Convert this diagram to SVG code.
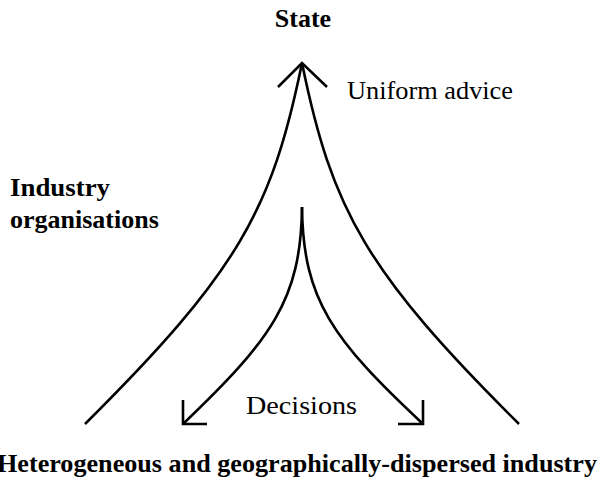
<svg xmlns="http://www.w3.org/2000/svg" width="602" height="490" viewBox="0 0 602 490">
<style>
.ln{fill:none;stroke:#000;stroke-width:2.6;stroke-linecap:butt;stroke-linejoin:miter}
</style>
<rect width="602" height="490" fill="#fff"/>
<g id="connectors">
<path class="ln" d="M85 424 C238 272 272 210 302 63"/>
<path class="ln" d="M519 424 C366 272 332 210 302 63"/>
<path class="ln" d="M278 87 L302 63 L327 87"/>
<path class="ln" d="M302 207 C301 300 271 340 183 424"/>
<path class="ln" d="M302 207 C303 300 333 340 423 424"/>
<path class="ln" d="M183 400 L183 424 L207 424"/>
<path class="ln" d="M423 400 L423 424 L398 424"/>
</g>
<g font-family="Liberation Serif, DejaVu Serif, serif" font-size="26" fill="#000">
<g id="state"><text font-weight="bold" x="303" y="27" text-anchor="middle">State</text></g>
<g id="uniform-advice"><text x="347" y="99" textLength="166" lengthAdjust="spacingAndGlyphs">Uniform advice</text></g>
<g id="industry-organisations"><text font-weight="bold" x="10" y="196" textLength="100" lengthAdjust="spacingAndGlyphs">Industry</text><text font-weight="bold" x="10" y="228">organisations</text></g>
<g id="decisions"><text x="246" y="414" textLength="111" lengthAdjust="spacingAndGlyphs">Decisions</text></g>
<g id="industry"><text font-weight="bold" x="-3" y="472" textLength="600" lengthAdjust="spacingAndGlyphs">Heterogeneous and geographically-dispersed industry</text></g>
</g>
</svg>
